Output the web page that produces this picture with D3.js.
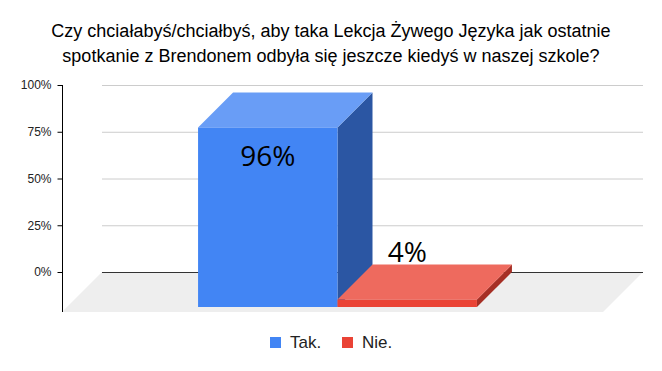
<!DOCTYPE html>
<html>
<head>
<meta charset="utf-8">
<script src="https://cdn.jsdelivr.net/npm/d3@7"></script>
<style>
  body { margin: 0; background: #fff; }
  svg { display: block; }
</style>
</head>
<body>
<div id="chart"></div>
<script>
// data
var titleLines = ["Czy chciałabyś/chciałbyś, aby taka Lekcja Żywego Języka jak ostatnie",
                  "spotkanie z Brendonem odbyła się jeszcze kiedyś w naszej szkole?"];
var seriesNames = ["Tak.", "Nie."];
var seriesValues = [0.96, 0.04];
var valueLabels = ["96%", "4%"];
var tickValues = [0, 0.25, 0.5, 0.75, 1];

var colors = [
  { front: "#4285f4", top: "#699df6", side: "#2b56a3" },
  { front: "#ea4335", top: "#ee6a5e", side: "#a62f25" }
];

var width = 662, height = 371;
var backLeft = 102, backRight = 643;   // back wall
var floorDepth = 40;                   // floor offset (left/down)
var barDepth = 35;                     // bar depth

var svg = d3.select("#chart").append("svg")
  .attr("width", width)
  .attr("height", height);

var yScale = d3.scaleLinear()
  .domain([0, 1])
  .range([272, 85]);

var xScale = d3.scaleBand()
  .domain(seriesNames)
  .range([backLeft, backRight])
  .paddingOuter(0.94)
  .paddingInner(0);

// title
svg.append("g").selectAll("text")
  .data(titleLines)
  .enter().append("text")
  .attr("x", width / 2)
  .attr("y", function(d, i) { return 37 + i * 25; })
  .attr("text-anchor", "middle")
  .style("font-family", "Liberation Sans, Arial, sans-serif")
  .style("font-size", "18px")
  .style("fill", "#000")
  .text(function(d) { return d; });

// floor
var y0 = yScale(0);
svg.append("polygon")
  .attr("points", [
    [backLeft, y0], [backRight, y0],
    [backRight - floorDepth, y0 + floorDepth], [backLeft - floorDepth, y0 + floorDepth]
  ].map(function(p) { return p.join(","); }).join(" "))
  .style("fill", "#eeeeee");

// gridlines
svg.append("g").selectAll("line")
  .data(tickValues.filter(function(d) { return d > 0; }))
  .enter().append("line")
  .attr("x1", backLeft).attr("x2", backRight)
  .attr("y1", function(d) { return yScale(d) + 0.5; })
  .attr("y2", function(d) { return yScale(d) + 0.5; })
  .style("stroke", "#cccccc")
  .style("stroke-width", 1);

svg.append("line")
  .attr("x1", backLeft).attr("x2", backRight)
  .attr("y1", y0 + 0.5).attr("y2", y0 + 0.5)
  .style("stroke", "#333")
  .style("stroke-width", 1);

// y axis
var axisX = backLeft - floorDepth;
var yAxis = svg.append("g")
  .attr("transform", "translate(" + (axisX + 0.5) + ",0)")
  .call(d3.axisLeft(yScale)
    .tickValues(tickValues)
    .tickSize(5)
    .tickPadding(6)
    .tickFormat(d3.format(".0%")));
yAxis.select(".domain")
  .attr("d", "M0," + yScale(1) + "V" + (y0 + floorDepth))
  .style("stroke", "#000");
yAxis.selectAll(".tick line").style("stroke", "#000");
yAxis.selectAll(".tick text")
  .style("font-family", "Liberation Sans, Arial, sans-serif")
  .style("font-size", "12px")
  .style("fill", "#222");

// bars
var bars = svg.append("g").selectAll("g")
  .data(seriesValues)
  .enter().append("g");

function pts(list) { return list.map(function(p) { return p.join(","); }).join(" "); }

bars.each(function(v, i) {
  var g = d3.select(this);
  var bx = xScale(seriesNames[i]);           // back left x
  var bw = xScale.bandwidth();
  var fx = bx - barDepth;                      // front left x
  var fyBottom = y0 + barDepth;
  var fyTop = yScale(v) + barDepth;
  var byTop = yScale(v);
  // side
  g.append("polygon")
    .attr("points", pts([[fx + bw, fyTop], [bx + bw, byTop], [bx + bw, y0], [fx + bw, fyBottom]]))
    .style("fill", colors[i].side);
  // top
  g.append("polygon")
    .attr("points", pts([[fx, fyTop], [bx, byTop], [bx + bw, byTop], [fx + bw, fyTop]]))
    .style("fill", colors[i].top);
  // front
  g.append("rect")
    .attr("x", fx).attr("y", fyTop)
    .attr("width", bw).attr("height", fyBottom - fyTop)
    .style("fill", colors[i].front);
});

// value labels
bars.append("text")
  .attr("x", function(d, i) { return xScale(seriesNames[i]) - barDepth + xScale.bandwidth() / 2; })
  .attr("y", function(d, i) {
    return d > 0.5 ? yScale(d) + barDepth + 39 : yScale(d) - 3;
  })
  .attr("text-anchor", "middle")
  .style("font-family", "Open Sans, sans-serif")
  .style("font-size", "28px")
  .style("fill", "#000")
  .text(function(d, i) { return valueLabels[i]; });

// legend
var legend = svg.append("g").selectAll("g")
  .data(seriesNames)
  .enter().append("g")
  .attr("transform", function(d, i) { return "translate(" + (270 + i * 72) + ",337)"; });
legend.append("rect")
  .attr("width", 11).attr("height", 11)
  .style("fill", function(d, i) { return colors[i].front; });
legend.append("text")
  .attr("x", 20).attr("y", 11)
  .style("font-family", "Liberation Sans, Arial, sans-serif")
  .style("font-size", "17px")
  .style("fill", "#222")
  .text(function(d) { return d; });
</script>
</body>
</html>
